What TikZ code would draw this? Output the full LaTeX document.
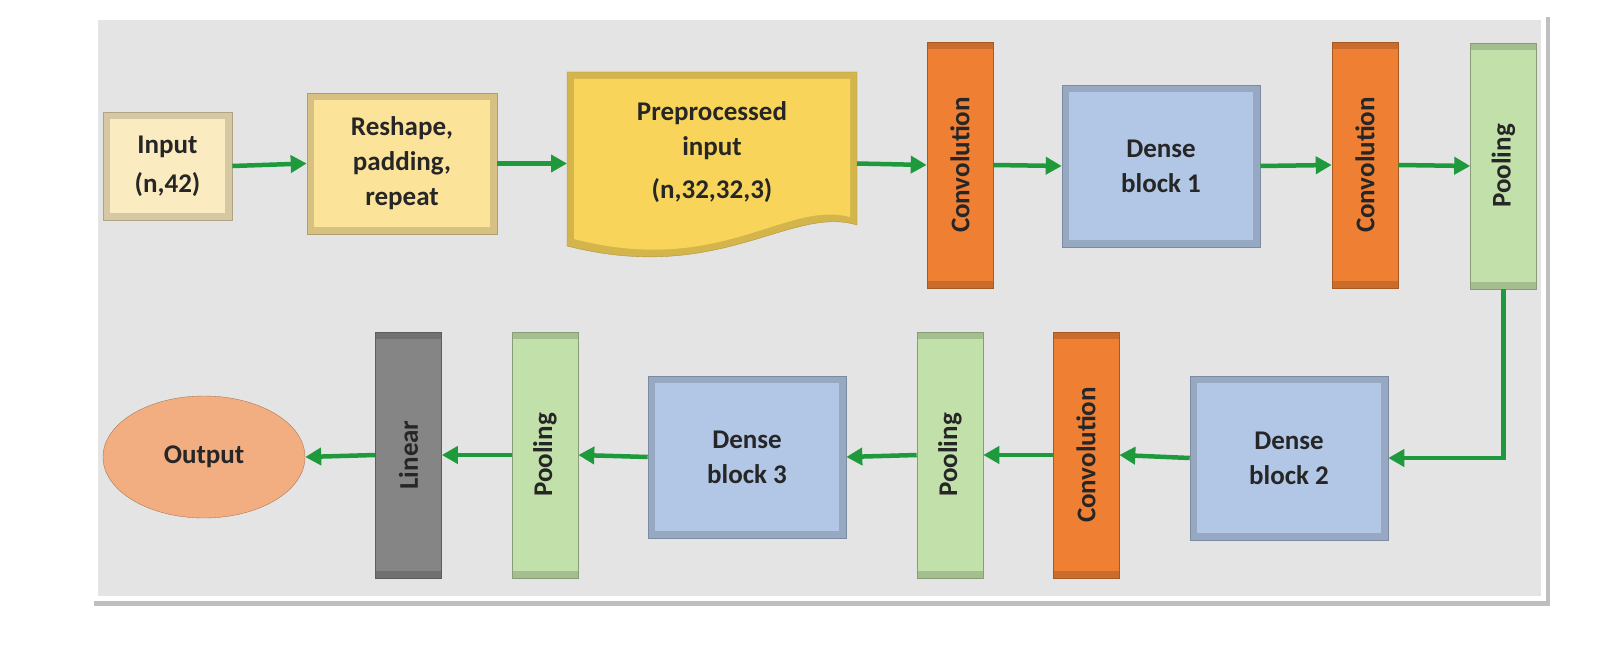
\documentclass[tikz,border=0pt]{standalone}
\usepackage{fontspec}
\setmainfont{Carlito}
\usetikzlibrary{arrows.meta,shapes.geometric,calc}
\definecolor{bgc}{HTML}{E4E4E4}
\definecolor{inc}{HTML}{FBEBC0}
\definecolor{rsc}{HTML}{FCE39A}
\definecolor{ppc}{HTML}{F8D55A}
\definecolor{cvc}{HTML}{EE7F33}
\definecolor{dbc}{HTML}{B2C6E6}
\definecolor{plc}{HTML}{C2E0AA}
\definecolor{lnc}{HTML}{858585}
\definecolor{otc}{HTML}{F2AE80}
\definecolor{arc}{HTML}{1E9A3C}
\tikzset{
  bev/.style={draw=#1!70!black,line width=0.6pt,fill=#1!85!black,
    path picture={\fill[#1] ([xshift=7pt,yshift=7pt]path picture bounding box.south west) rectangle ([xshift=-7pt,yshift=-7pt]path picture bounding box.north east);}},
  lbl/.style={font=\bfseries\fontsize{27}{35}\selectfont,align=center,text=black!85},
  hbox/.style={bev=#1,lbl,inner sep=0pt},
  vbox/.style={bev=#1,lbl,rotate=90,minimum width=246pt,minimum height=66pt,inner sep=0pt},
  arr/.style={draw=arc,line width=4.5pt,-{Triangle[length=16pt,width=17pt]}},
}
\begin{document}
\begin{tikzpicture}[x=1pt,y=-1pt]
\fill[white] (0,0) rectangle (1603,663);
\fill[black!25] (94,17) rectangle (1550,606);
\fill[white] (92,14) rectangle (1546,601);
\fill[bgc] (98,20) rectangle (1541,596);
% row 1
\node[hbox=inc,minimum width=129pt,minimum height=108pt] (in) at (167.5,166) {Input\\[4pt](n,42)};
\node[hbox=rsc,minimum width=190pt,minimum height=141pt] (rs) at (402,163.5) {Reshape,\\padding,\\repeat};
\fill[ppc!85!black,draw=ppc!70!black] (567,72) -- (857,72) -- (857,225) .. controls (790,205) and (720,285) .. (567,246) -- cycle;
\fill[ppc] (574,79) -- (850,79) -- (850,217) .. controls (785,200) and (720,277) .. (574,239) -- cycle;
\node[lbl,minimum width=290pt,minimum height=160pt,inner sep=0pt] (pp) at (712,152) {Preprocessed\\input\\[8pt](n,32,32,3)};
\node[vbox=cvc] (c1) at (960,165) {Convolution};
\node[hbox=dbc,minimum width=198pt,minimum height=162pt] (d1) at (1161,166) {Dense\\block 1};
\node[vbox=cvc] (c2) at (1365,165) {Convolution};
\node[vbox=plc] (p1) at (1503.5,166) {Pooling};
% row 2
\node[hbox=dbc,minimum width=198pt,minimum height=164pt] (d2) at (1289,458) {Dense\\block 2};
\node[vbox=cvc] (c3) at (1086,455) {Convolution};
\node[vbox=plc] (p2) at (950,455) {Pooling};
\node[hbox=dbc,minimum width=198pt,minimum height=162pt] (d3) at (747,457) {Dense\\block 3};
\node[vbox=plc] (p3) at (545,455) {Pooling};
\node[vbox=lnc] (ln) at (408.5,455) {Linear};
\node[ellipse,draw=otc!70!black,fill=otc,lbl,minimum width=202pt,minimum height=122pt] (out) at (204,457) {Output};
% arrows
\coordinate (ppw) at (567,163.5);
\coordinate (ppe) at (857,163.5);
\draw[arr] (in.east) -- (rs.west);
\draw[arr] (rs.east) -- (ppw);
\draw[arr] (ppe) -- (c1.north);
\draw[arr] (c1.south) -- (d1.west);
\draw[arr] (d1.east) -- (c2.north);
\draw[arr] (c2.south) -- (p1.north);
\draw[arr] (p1.west) |- (d2.east);
\draw[arr] (d2.west) -- (c3.south);
\draw[arr] (c3.north) -- (p2.south);
\draw[arr] (p2.north) -- (d3.east);
\draw[arr] (d3.west) -- (p3.south);
\draw[arr] (p3.north) -- (ln.south);
\draw[arr] (ln.north) -- (out.east);
\pgfresetboundingbox
\useasboundingbox (0,0) rectangle (1603,663);
\end{tikzpicture}
\end{document}
